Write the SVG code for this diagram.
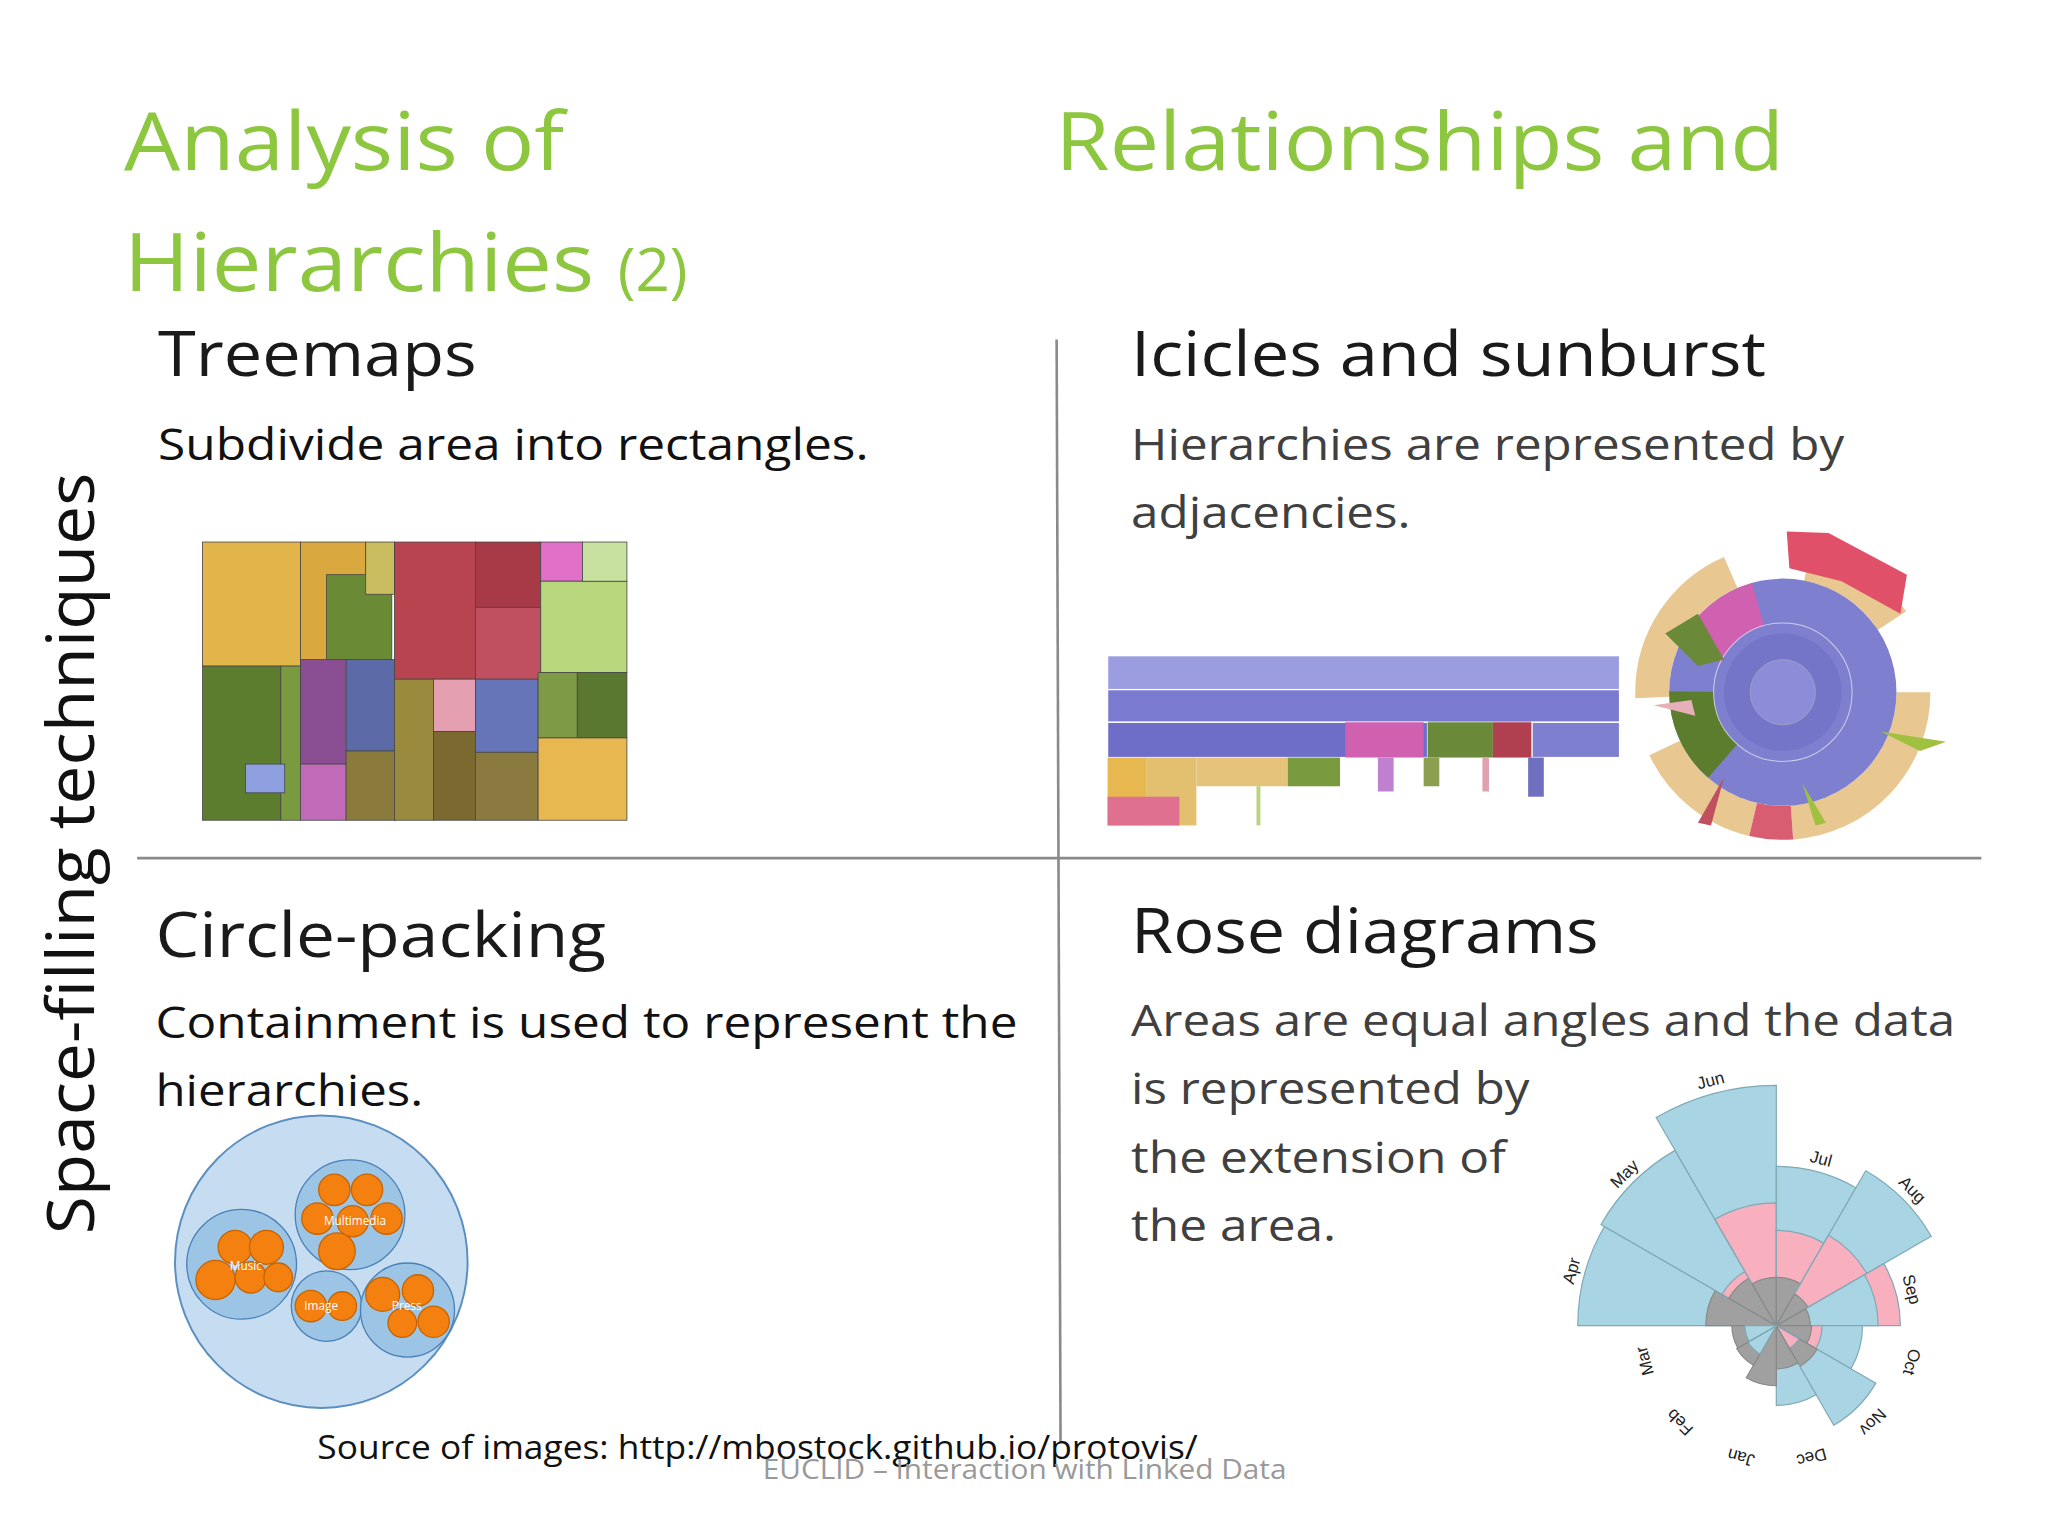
<svg xmlns="http://www.w3.org/2000/svg" width="2048" height="1536" viewBox="0 0 2048 1536">
<style>
.t{font-family:"Open Sans","Liberation Sans",Arial,sans-serif}
.g{fill:#8dc63f;font-size:62px}
.h{fill:#1a1a1a;font-size:48px}
.b{fill:#111;font-size:33px}
.gr{fill:#404040;font-size:33px}
.lbl{font-family:"Liberation Sans",Arial,sans-serif;font-size:13px;fill:#222;text-anchor:middle}
.bl{fill:#a9d4e3;stroke:#7fa9b5;stroke-width:1.2}
.pk{fill:#f8b0bf;stroke:#7fa9b5;stroke-width:1.2}
.gy{fill:#a0a0a0;stroke:#888;stroke-width:1.2}
.oc{fill:#f3800f;stroke:#c86400;stroke-width:1}
.tm rect{stroke:#444;stroke-width:0.6}
</style>
<defs>
<path id="w" d="M0 0 L0 -1 A1 1 0 0 1 0.5 -0.866 Z" vector-effect="non-scaling-stroke"/>
</defs>
<rect width="2048" height="1536" fill="#fff"/>
<g transform="scale(1.3061)">
<g id="titles" class="t">
<text x="95" y="130" class="g" textLength="337" lengthAdjust="spacingAndGlyphs">Analysis of</text>
<text x="95" y="223" class="g" textLength="360" lengthAdjust="spacingAndGlyphs">Hierarchies</text>
<text x="473" y="223" class="t" fill="#8dc63f" font-size="46">(2)</text>
<text x="808" y="130" class="g" textLength="558" lengthAdjust="spacingAndGlyphs">Relationships and</text>
</g>
<g id="dividers" stroke="#8a8a8a" stroke-width="2">
<line x1="105" y1="657" x2="1517" y2="657"/>
<line x1="809" y1="260" x2="812" y2="1105"/>
</g>
<text class="t" font-size="50" fill="#111" transform="translate(72,945) rotate(-90)" textLength="583" lengthAdjust="spacingAndGlyphs">Space-filling techniques</text>
<g id="treemaps" class="t">
<text x="121" y="288" class="h" textLength="244" lengthAdjust="spacingAndGlyphs">Treemaps</text>
<text x="121" y="352" class="b" textLength="544" lengthAdjust="spacingAndGlyphs">Subdivide area into rectangles.</text>
<g class="tm">
<rect x="155" y="415" width="75" height="95" fill="#e2b54a"/>
<rect x="230" y="415" width="50" height="95" fill="#d9a83e"/>
<rect x="250" y="440" width="50" height="70" fill="#6a8a36"/>
<rect x="280" y="415" width="22" height="40" fill="#c9bd60"/>
<rect x="155" y="510" width="60" height="118" fill="#5d7d2e"/>
<rect x="215" y="510" width="15" height="118" fill="#7a9a40"/>
<rect x="188" y="585" width="30" height="22" fill="#8fa0e0"/>
<rect x="230" y="505" width="40" height="80" fill="#8a4f92"/>
<rect x="230" y="585" width="35" height="43" fill="#c06ab8"/>
<rect x="265" y="505" width="38" height="70" fill="#5d6aa8"/>
<rect x="265" y="575" width="38" height="53" fill="#8a7a3c"/>
<rect x="302" y="415" width="62" height="105" fill="#b84450"/>
<rect x="364" y="415" width="50" height="50" fill="#a83a48"/>
<rect x="364" y="465" width="50" height="55" fill="#c05060"/>
<rect x="302" y="520" width="30" height="108" fill="#9a8a3e"/>
<rect x="332" y="520" width="32" height="40" fill="#e4a0b0"/>
<rect x="332" y="560" width="32" height="68" fill="#7a6a30"/>
<rect x="364" y="520" width="48" height="56" fill="#6674b8"/>
<rect x="364" y="576" width="48" height="52" fill="#8a7a40"/>
<rect x="414" y="415" width="32" height="30" fill="#e070c8"/>
<rect x="414" y="445" width="66" height="70" fill="#b8d67c"/>
<rect x="446" y="415" width="34" height="30" fill="#c8e0a0"/>
<rect x="412" y="515" width="30" height="50" fill="#7f9a46"/>
<rect x="442" y="515" width="38" height="50" fill="#5a7830"/>
<rect x="412" y="565" width="68" height="63" fill="#e8b850"/>
</g>
</g>
<g id="icicles" class="t">
<text x="866" y="288" class="h" textLength="486" lengthAdjust="spacingAndGlyphs">Icicles and sunburst</text>
<text x="866" y="352" class="gr" textLength="546" lengthAdjust="spacingAndGlyphs">Hierarchies are represented by</text>
<text x="866" y="404" class="gr" textLength="214" lengthAdjust="spacingAndGlyphs">adjacencies.</text>
<rect x="848" y="502" width="392" height="26" fill="#9c9ce0" stroke="#fff"/>
<rect x="848" y="528" width="392" height="25" fill="#7a7ad0" stroke="#fff"/>
<rect x="848" y="553" width="245" height="27" fill="#6e6ec8" stroke="#fff"/>
<rect x="1093" y="553" width="50" height="27" fill="#6a8a3a"/>
<rect x="1143" y="553" width="30" height="27" fill="#b04050"/>
<rect x="1173" y="553" width="67" height="27" fill="#7f7fd0" stroke="#fff"/>
<rect x="1030" y="553" width="60" height="27" fill="#d060b0"/>
<rect x="848" y="580" width="30" height="52" fill="#e8b850"/>
<rect x="878" y="580" width="38" height="52" fill="#e3c070"/>
<rect x="916" y="580" width="70" height="22" fill="#e6c37a"/>
<rect x="986" y="580" width="40" height="22" fill="#7a9a40"/>
<rect x="1055" y="580" width="12" height="26" fill="#c080d0"/>
<rect x="1090" y="580" width="12" height="22" fill="#8aa050"/>
<rect x="1135" y="580" width="5" height="26" fill="#e0a0b0"/>
<rect x="1170" y="580" width="12" height="30" fill="#7070c0"/>
<rect x="848" y="610" width="55" height="22" fill="#e07090"/>
<rect x="962" y="602" width="3" height="30" fill="#b8d67c"/>
</g>
<g id="sunburst">
<circle cx="1365" cy="530" r="100" fill="none" stroke="#e8c890" stroke-width="26" stroke-dasharray="150 30 90 40 120 60 80 58"/>
<circle cx="1365" cy="530" r="100" fill="none" stroke="#d95d70" stroke-width="26" stroke-dasharray="0 150 30 460"/>
<circle cx="1365" cy="530" r="87" fill="#7f7fd0"/>
<circle cx="1365" cy="530" r="70" fill="none" stroke="#5d7d2e" stroke-width="34" stroke-dasharray="0 160 60 220"/>
<circle cx="1365" cy="530" r="70" fill="none" stroke="#d060b0" stroke-width="34" stroke-dasharray="0 250 60 130"/>
<circle cx="1365" cy="530" r="53" fill="none" stroke="#fff" stroke-width="0.8" opacity="0.6"/>
<circle cx="1365" cy="530" r="45" fill="#7474c8"/>
<circle cx="1365" cy="530" r="25" fill="#8c8cd8" stroke="#aab" stroke-width="0.5"/>
<path d="M1368 407 L1400 408 L1460 440 L1455 470 L1410 445 L1370 435 Z" fill="#e05068"/>
<path d="M1275 485 L1300 470 L1320 505 L1300 510 Z" fill="#6a8a3a"/>
<path d="M1266 540 L1295 536 L1298 548 Z" fill="#e6b0b8"/>
<path d="M1440 560 L1490 568 L1470 575 Z" fill="#a0c040"/>
<path d="M1380 600 L1398 630 L1390 632 Z" fill="#a0c040"/>
<path d="M1320 595 L1310 632 L1300 630 Z" fill="#c05060"/>
</g>
<g id="circlepacking" class="t">
<text x="119" y="733" class="h" textLength="345" lengthAdjust="spacingAndGlyphs">Circle-packing</text>
<text x="119" y="795" class="b" textLength="660" lengthAdjust="spacingAndGlyphs">Containment is used to represent the</text>
<text x="119" y="847" class="b" textLength="205" lengthAdjust="spacingAndGlyphs">hierarchies.</text>
<circle cx="246" cy="966" r="112" fill="#c6dcf0" stroke="#5a8fc0" stroke-width="1.5"/>
<circle cx="185" cy="968" r="42" fill="#9cc4e4" stroke="#4a80b8"/>
<circle cx="268" cy="930" r="42" fill="#9cc4e4" stroke="#4a80b8"/>
<circle cx="250" cy="1000" r="27" fill="#9cc4e4" stroke="#4a80b8"/>
<circle cx="312" cy="1003" r="36" fill="#9cc4e4" stroke="#4a80b8"/>
<circle class="oc" cx="180" cy="955" r="13"/><circle class="oc" cx="204" cy="955" r="13"/>
<circle class="oc" cx="165" cy="980" r="15"/><circle class="oc" cx="192" cy="978" r="12"/><circle class="oc" cx="213" cy="978" r="11"/>
<circle class="oc" cx="256" cy="911" r="12"/><circle class="oc" cx="281" cy="911" r="12"/>
<circle class="oc" cx="243" cy="933" r="12"/><circle class="oc" cx="270" cy="935" r="12"/><circle class="oc" cx="296" cy="933" r="12"/>
<circle class="oc" cx="258" cy="958" r="14"/>
<circle class="oc" cx="238" cy="1000" r="12"/><circle class="oc" cx="262" cy="1000" r="11"/>
<circle class="oc" cx="293" cy="991" r="13"/><circle class="oc" cx="320" cy="988" r="12"/>
<circle class="oc" cx="308" cy="1013" r="11"/><circle class="oc" cx="332" cy="1012" r="12"/>
<text x="176" y="972" font-size="9" fill="#fff">Music</text>
<text x="248" y="938" font-size="9" fill="#fff">Multimedia</text>
<text x="233" y="1003" font-size="9" fill="#fff">Image</text>
<text x="300" y="1003" font-size="9" fill="#fff">Press</text>
</g>
<g id="rose">
<text x="866" y="730" class="t h" textLength="358" lengthAdjust="spacingAndGlyphs">Rose diagrams</text>
<text x="866" y="793" class="t gr" textLength="631" lengthAdjust="spacingAndGlyphs">Areas are equal angles and the data</text>
<text x="866" y="845" class="t gr" textLength="305" lengthAdjust="spacingAndGlyphs">is represented by</text>
<text x="866" y="898" class="t gr" textLength="287" lengthAdjust="spacingAndGlyphs">the extension of</text>
<text x="866" y="950" class="t gr" textLength="157" lengthAdjust="spacingAndGlyphs">the area.</text>
<g transform="translate(1360,1015)">
<use href="#w" class="bl" transform="rotate(270) scale(152)"/><use href="#w" class="gy" transform="rotate(270) scale(54)"/>
<use href="#w" class="bl" transform="rotate(300) scale(155)"/><use href="#w" class="pk" transform="rotate(300) scale(48)"/><use href="#w" class="gy" transform="rotate(300) scale(42)"/>
<use href="#w" class="bl" transform="rotate(330) scale(184)"/><use href="#w" class="pk" transform="rotate(330) scale(94)"/><use href="#w" class="gy" transform="rotate(330) scale(37)"/>
<use href="#w" class="bl" transform="rotate(0) scale(122)"/><use href="#w" class="pk" transform="rotate(0) scale(73)"/><use href="#w" class="gy" transform="rotate(0) scale(37)"/>
<use href="#w" class="bl" transform="rotate(30) scale(137)"/><use href="#w" class="pk" transform="rotate(30) scale(80)"/><use href="#w" class="gy" transform="rotate(30) scale(28)"/>
<use href="#w" class="pk" transform="rotate(60) scale(95)"/><use href="#w" class="bl" transform="rotate(60) scale(78)"/><use href="#w" class="gy" transform="rotate(60) scale(26)"/>
<use href="#w" class="bl" transform="rotate(90) scale(66)"/><use href="#w" class="pk" transform="rotate(90) scale(35)"/><use href="#w" class="gy" transform="rotate(90) scale(27)"/>
<use href="#w" class="bl" transform="rotate(120) scale(88)"/><use href="#w" class="gy" transform="rotate(120) scale(36)"/><use href="#w" class="pk" transform="rotate(120) scale(20)"/>
<use href="#w" class="bl" transform="rotate(150) scale(61)"/><use href="#w" class="gy" transform="rotate(150) scale(33)"/>
<use href="#w" class="gy" transform="rotate(180) scale(46)"/>
<use href="#w" class="gy" transform="rotate(210) scale(35)"/><use href="#w" class="bl" transform="rotate(210) scale(25)"/>
<use href="#w" class="gy" transform="rotate(240) scale(34)"/><use href="#w" class="bl" transform="rotate(240) scale(24)"/>
<text class="lbl" transform="rotate(-15) translate(0,-190)">Jun</text>
<text class="lbl" transform="rotate(-45) translate(0,-160)">May</text>
<text class="lbl" transform="rotate(-75) translate(0,-158)">Apr</text>
<text class="lbl" transform="rotate(15) translate(0,-128)">Jul</text>
<text class="lbl" transform="rotate(45) translate(0,-143)">Aug</text>
<text class="lbl" transform="rotate(75) translate(0,-103)">Sep</text>
<text class="lbl" transform="rotate(105) translate(0,-103)">Oct</text>
<text class="lbl" transform="rotate(135) translate(0,-100)">Nov</text>
<text class="lbl" transform="rotate(165) translate(0,-100)">Dec</text>
<text class="lbl" transform="rotate(195) translate(0,-100)">Jan</text>
<text class="lbl" transform="rotate(225) translate(0,-100)">Feb</text>
<text class="lbl" transform="rotate(255) translate(0,-100)">Mar</text>
</g>
</g>
<g id="footer" class="t">
<text x="243" y="1117" font-size="25" fill="#111" textLength="674" lengthAdjust="spacingAndGlyphs">Source of images: http://mbostock.github.io/protovis/</text>
<text x="584" y="1132" font-size="21" fill="#999" textLength="401" lengthAdjust="spacingAndGlyphs">EUCLID – Interaction with Linked Data</text>
</g>
</g>
</svg>
